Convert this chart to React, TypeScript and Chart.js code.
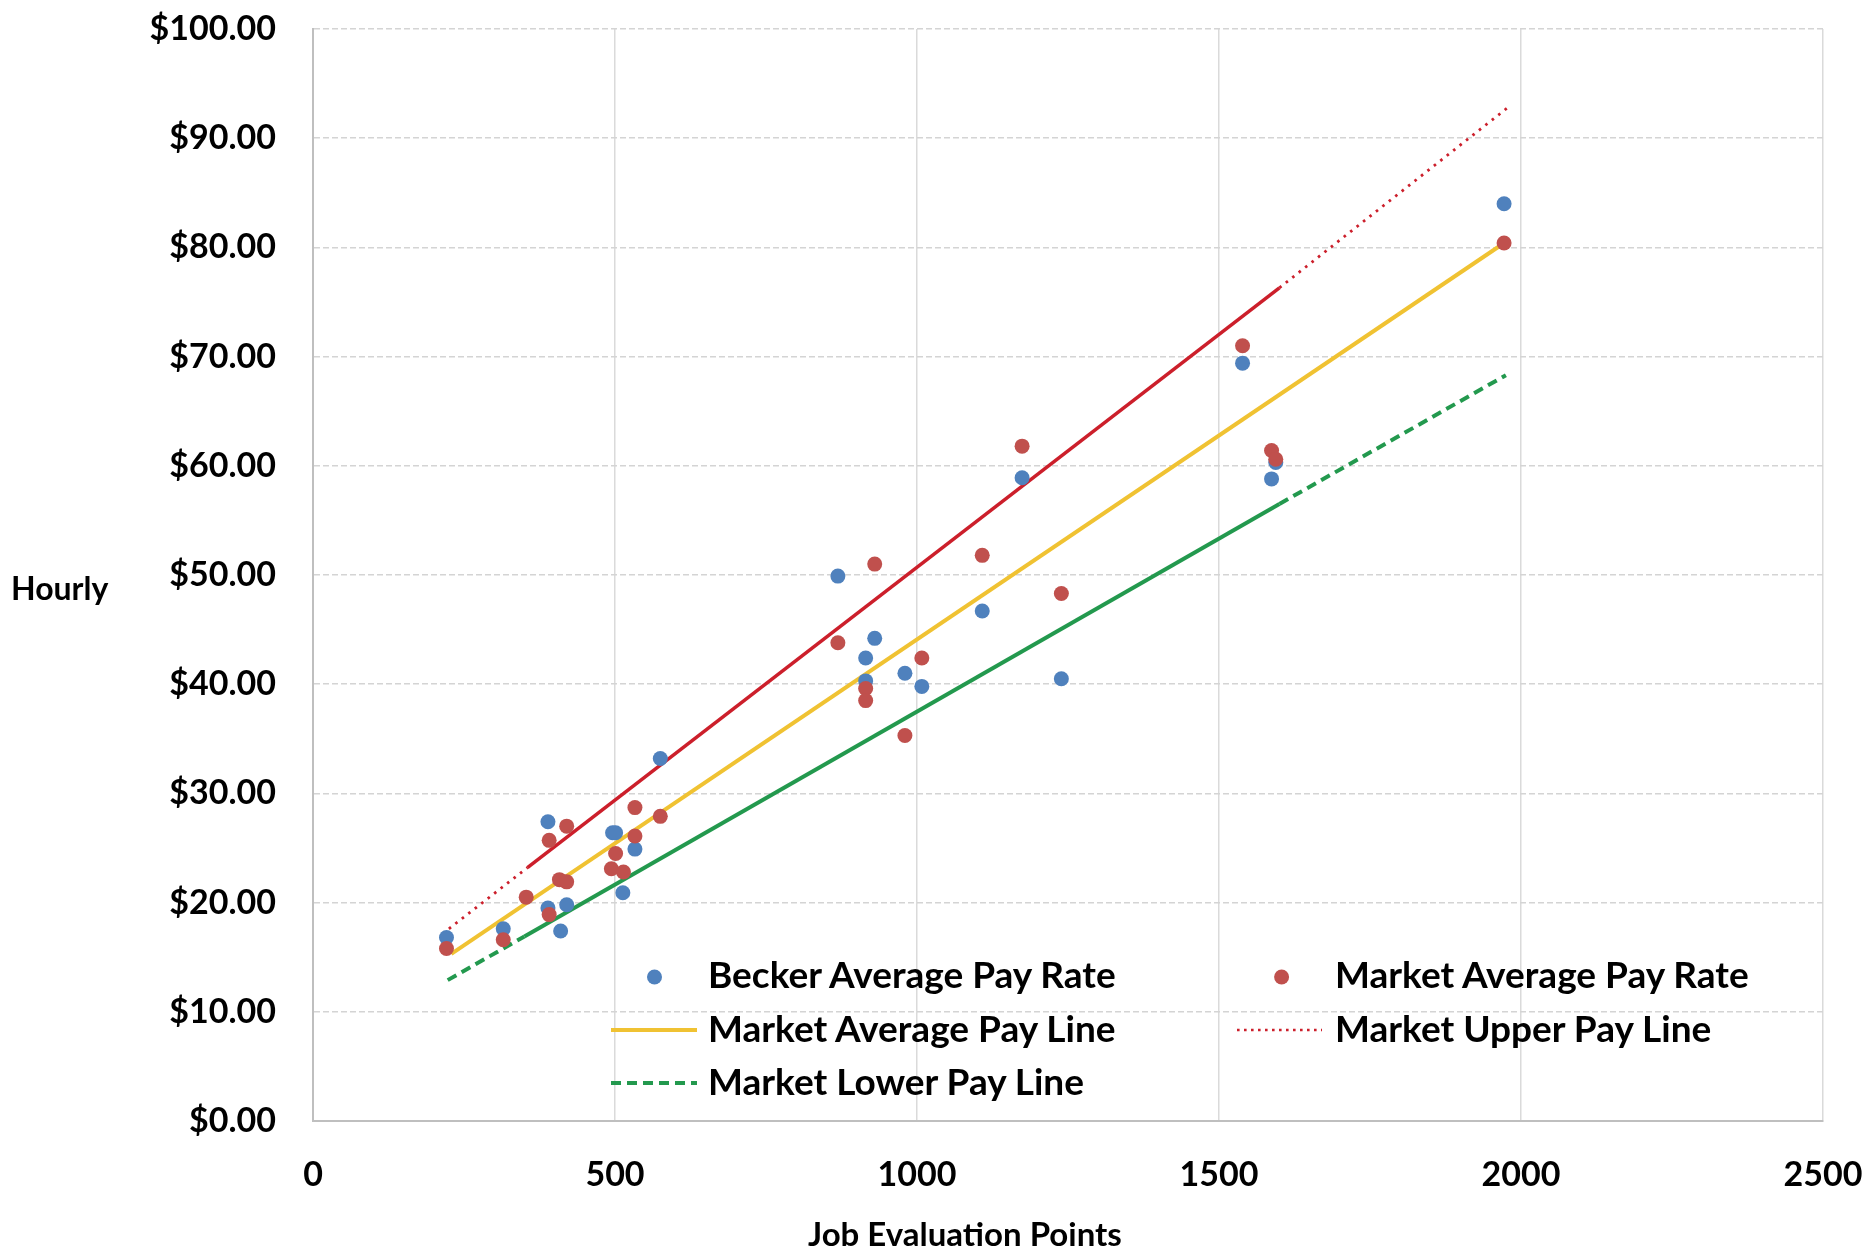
import React, { useEffect, useRef } from "react";
import { Chart, registerables } from "chart.js";

Chart.register(...registerables);

// ---------- data ----------
const xTickValues = [0, 500, 1000, 1500, 2000, 2500];
const yTickValues = [0, 10, 20, 30, 40, 50, 60, 70, 80, 90, 100];

const beckerX = [221, 315, 389, 389, 410, 420, 496, 501, 513, 533, 575, 869, 915, 915, 930, 980, 1008, 1108, 1174, 1239, 1539, 1587, 1594, 1972];
const beckerY = [16.8, 17.6, 27.4, 19.5, 17.4, 19.8, 26.4, 26.4, 20.9, 24.9, 33.2, 49.9, 42.4, 40.3, 44.2, 41.0, 39.8, 46.7, 58.9, 40.5, 69.4, 58.8, 60.3, 84.0];

const marketX = [221, 315, 353, 391, 391, 408, 420, 420, 494, 501, 514, 533, 533, 575, 869, 915, 915, 930, 980, 1008, 1108, 1174, 1239, 1539, 1587, 1594, 1972];
const marketY = [15.8, 16.6, 20.5, 25.7, 18.9, 22.1, 27.0, 21.9, 23.1, 24.5, 22.8, 28.7, 26.1, 27.9, 43.8, 39.6, 38.5, 51.0, 35.3, 42.4, 51.8, 61.8, 48.3, 71.0, 61.4, 60.6, 80.4];

const averageLineX = [229, 1972];
const averageLineY = [15.3, 80.4];

const upperLineX = [225, 355, 1600, 1978];
const upperLineY = [17.6, 23.2, 76.3, 92.8];

const lowerLineX = [223, 350, 1600, 1975];
const lowerLineY = [12.9, 16.9, 56.5, 68.3];

const seriesNames = [
  "Becker Average Pay Rate",
  "Market Average Pay Rate",
  "Market Average Pay Line",
  "Market Upper Pay Line",
  "Market Lower Pay Line",
];
const xAxisTitle = "Job Evaluation Points";
const yAxisTitle = "Hourly";

// ---------- styles ----------
const BLUE = "#4F81BD";
const RED_DOT = "#C0504D";
const YELLOW = "#F0C232";
const RED_LINE = "#CC1F2B";
const GREEN = "#23994E";
const FONT = "Lato, 'Open Sans', sans-serif";

const zip = (xs: number[], ys: number[]) => xs.map((x, i) => ({ x, y: ys[i] }));

export default function App() {
  const ref = useRef<HTMLCanvasElement>(null);

  useEffect(() => {
    const chart = new Chart(ref.current!, {
      type: "scatter",
      data: {
        datasets: [
          {
            label: seriesNames[1],
            data: zip(marketX, marketY),
            backgroundColor: RED_DOT,
            borderWidth: 0,
            pointRadius: 7.5,
            order: 0,
          },
          {
            label: seriesNames[0],
            data: zip(beckerX, beckerY),
            backgroundColor: BLUE,
            borderWidth: 0,
            pointRadius: 7.5,
            order: 1,
          },
          {
            label: seriesNames[2],
            data: zip(averageLineX, averageLineY),
            showLine: true,
            borderColor: YELLOW,
            borderWidth: 4,
            pointRadius: 0,
            order: 3,
          },
          {
            label: seriesNames[3],
            data: zip(upperLineX, upperLineY),
            showLine: true,
            borderColor: RED_LINE,
            borderWidth: 3.5,
            pointRadius: 0,
            order: 2,
            segment: {
              borderDash: (ctx: any) => (ctx.p0DataIndex === 0 || ctx.p0DataIndex === 2 ? [2.6, 5.6] : undefined),
              borderWidth: (ctx: any) => (ctx.p0DataIndex === 0 || ctx.p0DataIndex === 2 ? 2.8 : undefined),
            },
          },
          {
            label: seriesNames[4],
            data: zip(lowerLineX, lowerLineY),
            showLine: true,
            borderColor: GREEN,
            borderWidth: 4,
            pointRadius: 0,
            order: 4,
            segment: {
              borderDash: (ctx: any) => (ctx.p0DataIndex === 0 || ctx.p0DataIndex === 2 ? [10, 6] : undefined),
            },
          },
        ],
      },
      options: {
        animation: false,
        responsive: true,
        maintainAspectRatio: false,
        layout: { padding: { top: 29, right: 45, left: 0, bottom: 0 } },
        plugins: { legend: { display: false }, tooltip: { enabled: false } },
        scales: {
          x: {
            type: "linear",
            min: 0,
            max: 2500,
            afterBuildTicks: (s: any) => {
              s.ticks = xTickValues.map((v) => ({ value: v }));
            },
            afterFit: (s: any) => {
              s.height = 132;
              s.paddingLeft = 0;
              s.paddingRight = 0;
              s.paddingTop = 0;
              s.paddingBottom = 0;
            },
            ticks: {
              color: "#000",
              padding: 34,
              font: { family: FONT, size: 34, weight: "bold" },
              callback: (v: any) => String(v),
            },
            grid: { color: "#DADADA", lineWidth: 1.5, drawTicks: false },
            border: { color: "#BFBFBF", width: 2 },
          },
          y: {
            type: "linear",
            min: 0,
            max: 100,
            afterBuildTicks: (s: any) => {
              s.ticks = yTickValues.map((v) => ({ value: v }));
            },
            afterFit: (s: any) => {
              s.width = 313;
              s.paddingLeft = 0;
              s.paddingRight = 0;
              s.paddingTop = 0;
              s.paddingBottom = 0;
            },
            ticks: {
              color: "#000",
              padding: 37,
              font: { family: FONT, size: 34, weight: "bold" },
              callback: (v: any) => "$" + Number(v).toFixed(2),
            },
            grid: { color: "#D4D4D4", lineWidth: 1.5, drawTicks: false },
            border: { color: "#BFBFBF", width: 2, dash: [6, 3] },
          },
        },
      },
    });
    return () => chart.destroy();
  }, []);

  const legendText = (text: string, left: number, baseline: number) => (
    <div
      style={{
        position: "absolute",
        left,
        top: baseline - 0.887 * 37,
        fontFamily: FONT,
        fontWeight: 700,
        fontSize: 37,
        lineHeight: 1,
        whiteSpace: "nowrap",
        color: "#000",
      }}
    >
      {text}
    </div>
  );

  return (
    <div style={{ position: "fixed", left: 0, top: 0, width: 1868, height: 1253, background: "#fff", overflow: "hidden" }}>
      <div style={{ position: "absolute", left: 0, top: 0, width: 1868, height: 1253 }}>
        <canvas ref={ref} />
      </div>
      <svg width={1868} height={1253} style={{ position: "absolute", left: 0, top: 0, pointerEvents: "none" }}>
        <circle cx={654.5} cy={977} r={7.5} fill={BLUE} />
        <circle cx={1281.6} cy={977} r={7.5} fill={RED_DOT} />
        <line x1={611} x2={697} y1={1030} y2={1030} stroke={YELLOW} strokeWidth={4} />
        <line x1={1237} x2={1322} y1={1030} y2={1030} stroke={RED_LINE} strokeWidth={2.6} strokeDasharray="2.6 4.4" />
        <line x1={611} x2={697} y1={1083} y2={1083} stroke={GREEN} strokeWidth={4} strokeDasharray="10 6" />
      </svg>
      {legendText(seriesNames[0], 708, 988)}
      {legendText(seriesNames[1], 1335, 988)}
      {legendText(seriesNames[2], 708, 1041.5)}
      {legendText(seriesNames[3], 1335, 1041.5)}
      {legendText(seriesNames[4], 708, 1095)}
      <div
        style={{
          position: "absolute",
          left: 11,
          top: 600 - 0.887 * 32,
          fontFamily: FONT,
          fontWeight: 700,
          fontSize: 32,
          lineHeight: 1,
          whiteSpace: "nowrap",
          color: "#000",
        }}
      >
        {yAxisTitle}
      </div>
      <div
        style={{
          position: "absolute",
          left: 808,
          top: 1246 - 0.887 * 33,
          fontFamily: FONT,
          fontWeight: 700,
          fontSize: 33,
          lineHeight: 1,
          whiteSpace: "nowrap",
          color: "#000",
        }}
      >
        {xAxisTitle}
      </div>
    </div>
  );
}
